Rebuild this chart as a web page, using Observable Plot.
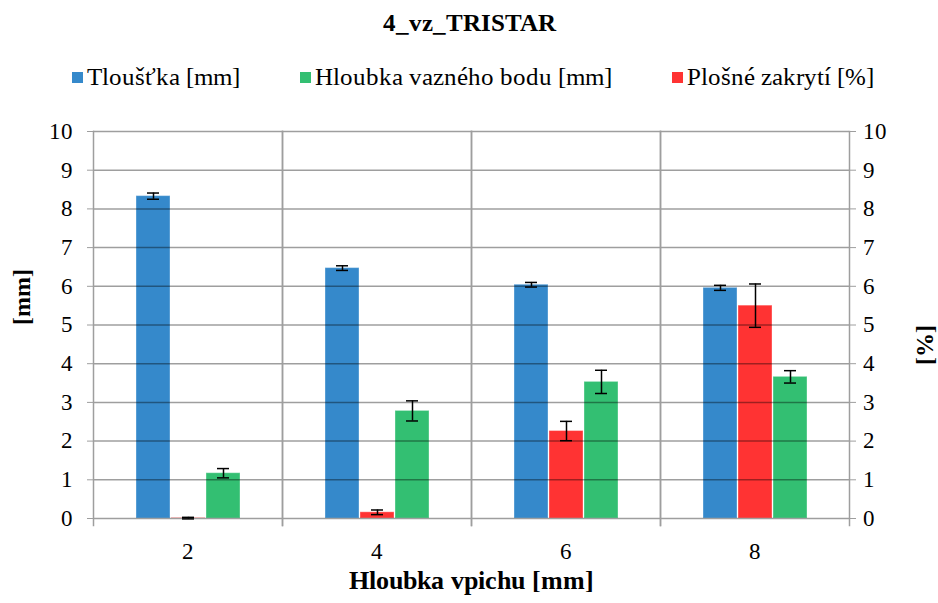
<!DOCTYPE html>
<html>
<head>
<meta charset="utf-8">
<style>
  @font-face { font-family: "ChartSerif"; src: local("Liberation Serif"), local("LiberationSerif-Regular"); font-weight: normal; }
  @font-face { font-family: "ChartSerif"; src: local("Liberation Serif Bold"), local("LiberationSerif-Bold"); font-weight: bold; }
  html, body, div, span, svg, text, tspan { font-family: "ChartSerif", "Liberation Serif" !important; }
</style>
<script src="https://cdn.jsdelivr.net/npm/d3@7"></script>
<script src="https://cdn.jsdelivr.net/npm/@observablehq/plot@0.6"></script>
</head>
<body style="margin:0;background:white">
<div id="wrap" style="position:relative;width:938px;height:603px">
  <div id="title" style="position:absolute;top:0;left:0;width:938px;height:46px;line-height:46px;text-align:center;font-weight:bold;font-size:25px"></div>
  <div id="legend" style="position:absolute;top:62px;left:0;width:938px;height:30px;display:flex;justify-content:center;align-items:center;gap:60px;font-size:25px;padding-left:8px;box-sizing:border-box"></div>
  <div id="chart" style="position:absolute;top:108px;left:0"></div>
</div>
<script>
const chartTitle = "4_vz_TRISTAR";
const xTitle = "Hloubka vpichu [mm]";
const yLeftTitle = "[mm]";
const yRightTitle = "[%]";
const groups = ["2", "4", "6", "8"];
const seriesNames = ["Tloušťka [mm]", "Plošné zakrytí [%]", "Hloubka vazného bodu [mm]"];
const legendOrder = ["Tloušťka [mm]", "Hloubka vazného bodu [mm]", "Plošné zakrytí [%]"];
const seriesColors = ["#3589cb", "#ff3333", "#33bf72"];
const thickness = [8.33, 6.47, 6.04, 5.96];
const thicknessErr = [0.08, 0.06, 0.06, 0.065];
const coverage = [0.01, 0.16, 2.26, 5.50];
const coverageErr = [0.02, 0.06, 0.25, 0.56];
const depth = [1.17, 2.78, 3.53, 3.66];
const depthErr = [0.12, 0.26, 0.30, 0.16];
const yTicks = [0, 1, 2, 3, 4, 5, 6, 7, 8, 9, 10];

const values = [thickness, coverage, depth];
const errs = [thicknessErr, coverageErr, depthErr];
const data = groups.flatMap((g, i) => seriesNames.map((s, j) => ({
  group: g, series: s, value: values[j][i], lo: values[j][i] - errs[j][i], hi: values[j][i] + errs[j][i]
})));

const FF = "'ChartSerif', 'Liberation Serif'";
function setFont(el) { el.style.setProperty("font-family", FF, "important"); }

document.getElementById("title").textContent = chartTitle;
const leg = document.getElementById("legend");
legendOrder.forEach(s => {
  const it = document.createElement("div");
  it.style.cssText = "display:flex;align-items:center;white-space:nowrap";
  const sw = document.createElement("div");
  sw.style.cssText = "width:11px;height:11px;margin-right:4px";
  sw.style.background = seriesColors[seriesNames.indexOf(s)];
  const t = document.createElement("span"); t.textContent = s;
  it.appendChild(sw); it.appendChild(t); leg.appendChild(it);
});

const gridColor = "#9e9e9e";
const plot = Plot.plot({
  width: 938, height: 495,
  marginTop: 23, marginBottom: 85, marginLeft: 93, marginRight: 89,
  style: { fontFamily: "Liberation Serif", fontSize: "23px", color: "black", background: "white" },
  fx: { domain: groups, padding: 0, label: null, axis: null },
  x: { domain: seriesNames, paddingInner: 0.03, paddingOuter: 1.21, axis: null },
  y: { domain: [0, 10], axis: null },
  color: { domain: seriesNames, range: seriesColors },
  marks: [
    Plot.barY(data, { fx: "group", x: "series", y: "value", fill: "series", stroke: "white", strokeOpacity: 0.35, strokeWidth: 1 }),
    Plot.ruleY(yTicks, { stroke: "black", strokeOpacity: 0.38, strokeWidth: 1.5 }),
    Plot.frame({ anchor: "left", stroke: gridColor, strokeWidth: 1.5, insetBottom: -7 }),
    Plot.frame({ anchor: "right", stroke: gridColor, strokeWidth: 1.5, insetBottom: -7 }),
    Plot.axisFx({ anchor: "bottom", tickSize: 0, tickPadding: 24, label: null, fontSize: 23 }),
    Plot.axisY(yTicks, { anchor: "left", tickSize: 6, tickPadding: 15, stroke: gridColor, fill: "black", label: null, fontSize: 23, tickFormat: d => String(d) }),
    Plot.axisY(yTicks, { anchor: "right", tickSize: 6, tickPadding: 7, stroke: gridColor, fill: "black", label: null, fontSize: 23, tickFormat: d => String(d) }),
    Plot.ruleX(data, { fx: "group", x: "series", y1: "lo", y2: "hi", stroke: "black", strokeWidth: 1.5 }),
    Plot.tickY(data, { fx: "group", x: "series", y: "lo", stroke: "black", strokeWidth: 1.5, inset: 11 }),
    Plot.tickY(data, { fx: "group", x: "series", y: "hi", stroke: "black", strokeWidth: 1.5, inset: 11 }),
    Plot.text([xTitle], { text: d => d, facet: "super", frameAnchor: "bottom", dy: 70, fontWeight: "bold", fontSize: 26 }),
    Plot.text([yLeftTitle], { text: d => d, facet: "super", frameAnchor: "left", dx: -71, rotate: -90, fontWeight: "bold", fontSize: 24 }),
    Plot.text([yRightTitle], { text: d => d, facet: "super", frameAnchor: "right", dx: 76, rotate: -90, fontWeight: "bold", fontSize: 24 })
  ]
});
plot.setAttribute("font-family", "Liberation Serif");
document.getElementById("chart").appendChild(plot);
document.querySelectorAll("body, body *").forEach(setFont);
</script>
</body>
</html>
